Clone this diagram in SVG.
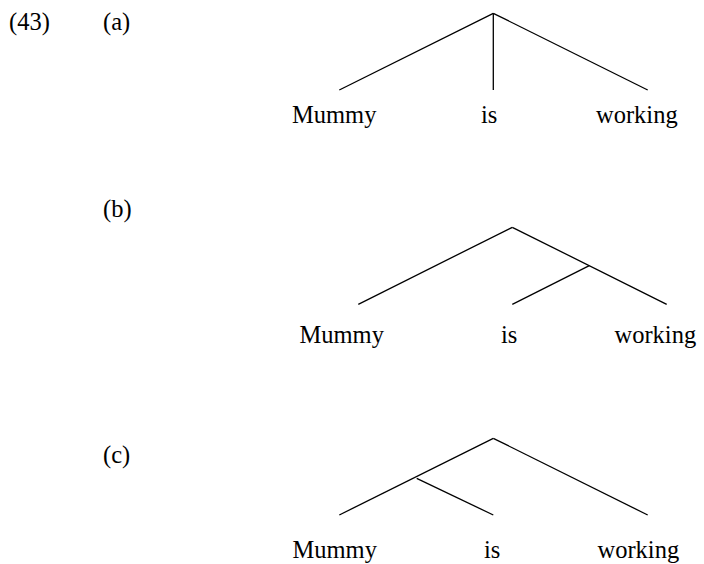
<svg xmlns="http://www.w3.org/2000/svg" width="704" height="564" viewBox="0 0 704 564">
<style>
text { font-family: "Liberation Serif", "Times New Roman", serif; font-size: 24.5px; fill: #000; }
.edge { stroke: #000; stroke-width: 1.3; fill: none; stroke-linecap: butt; }
</style>
<rect width="704" height="564" fill="#fff"/>
<g id="labels">
<text x="9" y="29.5">(43)</text>
<text x="103" y="29.5">(a)</text>
<text x="103" y="217">(b)</text>
<text x="103" y="463">(c)</text>
</g>
<g id="connectors">
<line class="edge" x1="493.3" y1="13.3" x2="339.3" y2="90"/>
<line class="edge" x1="493.3" y1="13.3" x2="493.3" y2="90"/>
<line class="edge" x1="493.3" y1="13.3" x2="647.7" y2="90"/>
<line class="edge" x1="512.3" y1="227.3" x2="358.3" y2="304.3"/>
<line class="edge" x1="512.3" y1="227.3" x2="666.7" y2="304.3"/>
<line class="edge" x1="589.3" y1="265.7" x2="512.3" y2="304.3"/>
<line class="edge" x1="493.3" y1="438.3" x2="339.3" y2="515"/>
<line class="edge" x1="493.3" y1="438.3" x2="647.7" y2="515"/>
<line class="edge" x1="416.7" y1="478.3" x2="493.3" y2="515"/>
</g>
<g id="tree-a">
<g id="a-mummy"><text x="292" y="123">Mummy</text></g>
<g id="a-is"><text x="481" y="123">is</text></g>
<g id="a-working"><text x="596" y="123">working</text></g>
</g>
<g id="tree-b">
<g id="b-mummy"><text x="299.5" y="343">Mummy</text></g>
<g id="b-is"><text x="501" y="343">is</text></g>
<g id="b-working"><text x="614.5" y="343">working</text></g>
</g>
<g id="tree-c">
<g id="c-mummy"><text x="292.5" y="557.5">Mummy</text></g>
<g id="c-is"><text x="484" y="557.5">is</text></g>
<g id="c-working"><text x="597.5" y="557.5">working</text></g>
</g>
</svg>
